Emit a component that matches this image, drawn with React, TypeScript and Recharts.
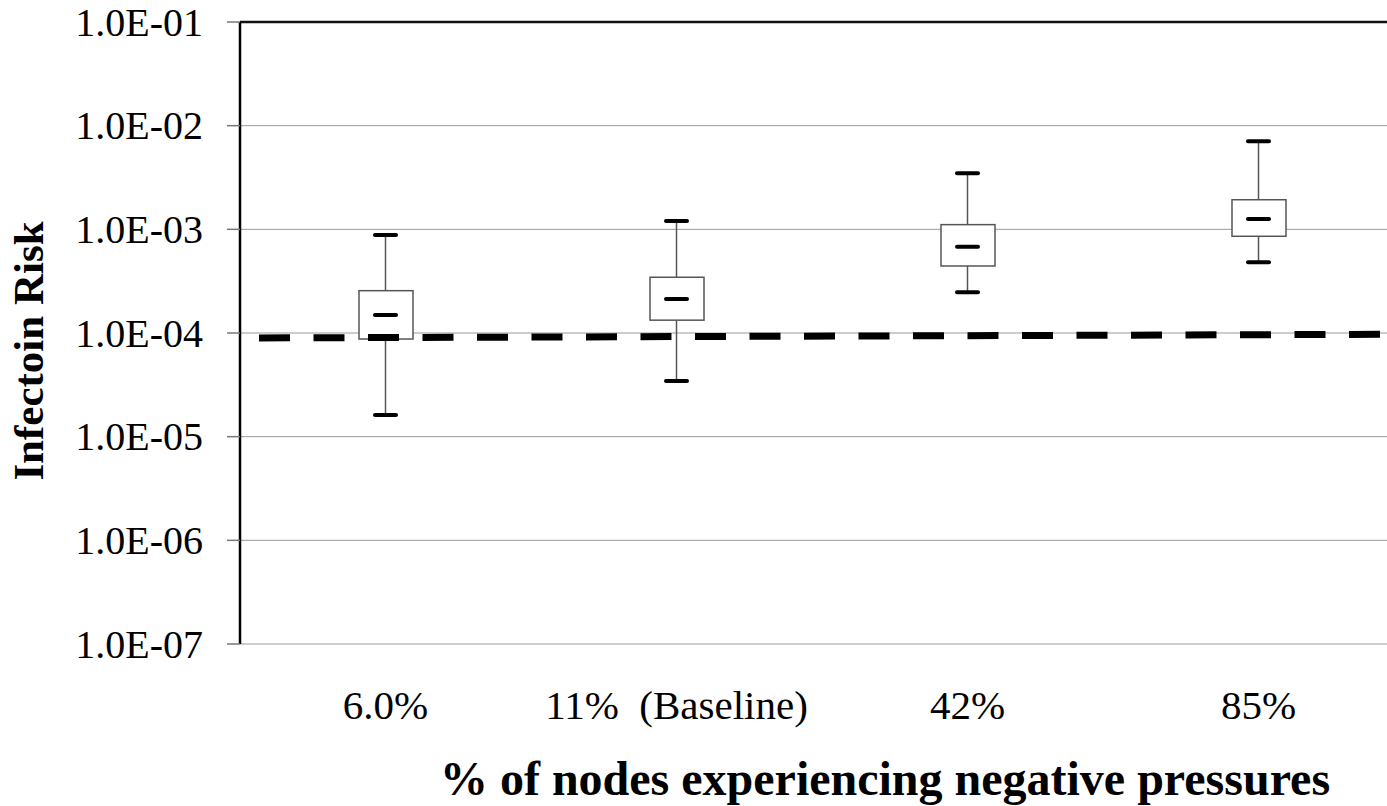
import React from "react";
import {
  Bar,
  CartesianGrid,
  ComposedChart,
  Label,
  ReferenceLine,
  Scatter,
  XAxis,
  YAxis,
} from "recharts";

const categories = ["6.0%", "11%  (Baseline)", "42%", "85%"];
const whiskerLow = [1.62e-5, 3.44e-5, 2.47e-4, 4.81e-4];
const boxLow = [8.75e-5, 1.33e-4, 4.43e-4, 8.57e-4];
const medians = [1.49e-4, 2.13e-4, 6.8e-4, 1.26e-3];
const boxHigh = [2.56e-4, 3.45e-4, 1.11e-3, 1.93e-3];
const whiskerHigh = [8.81e-4, 1.2e-3, 3.47e-3, 7.07e-3];

// dashed reference series, from left edge to right edge of the plot
const thresholdX = [0, 4];
const thresholdY = [8.95e-5, 1.0e-4];

const yTicks = [1e-7, 1e-6, 1e-5, 1e-4, 1e-3, 1e-2, 1e-1];
const bandEdges = [0, 1, 2, 3, 4];

const FONT = "Liberation Serif";

const fmtExp = (v: number) => {
  const e = Math.round(Math.log10(v));
  const sign = e < 0 ? "-" : "+";
  return `1.0E${sign}${String(Math.abs(e)).padStart(2, "0")}`;
};

const YTick = (props: any) => {
  const { x, y, payload } = props;
  return (
    <text x={x} y={y} dy="0.34em" textAnchor="end" fontFamily={FONT} fontSize={40} fill="#000">
      {fmtExp(payload.value)}
    </text>
  );
};

const XTick = (props: any) => {
  const { x, y, payload } = props;
  return (
    <text
      x={x}
      y={y + 75}
      textAnchor="middle"
      fontFamily={FONT}
      fontSize={41}
      fill="#000"
      style={{ whiteSpace: "pre" }}
    >
      {payload.value}
    </text>
  );
};

const WhiskerShape = (props: any) => {
  const { x, y, width, height } = props;
  const cx = x + width / 2;
  return (
    <g>
      <line x1={cx} x2={cx} y1={y} y2={y + height} stroke="#555" strokeWidth={1.5} />
      <rect x={x} y={y - 2} width={width} height={4} rx={2} fill="#000" />
      <rect x={x} y={y + height - 2} width={width} height={4} rx={2} fill="#000" />
    </g>
  );
};

const BoxShape = (props: any) => {
  const { x, y, width, height } = props;
  return <rect x={x} y={y} width={width} height={height} fill="#fff" stroke="#555" strokeWidth={1.5} />;
};

const MedianShape = (props: any) => {
  const { cx, cy } = props;
  return <rect x={cx - 12.5} y={cy - 2} width={25} height={4} rx={2} fill="#000" />;
};

export default function App() {
  const data = categories.map((name, i) => ({
    name,
    whisker: [whiskerLow[i], whiskerHigh[i]],
    box: [boxLow[i], boxHigh[i]],
    median: medians[i],
  }));

  return (
    <div
      style={{
        position: "absolute",
        left: 0,
        top: 0,
        width: 1387,
        height: 806,
        overflow: "hidden",
        background: "#fff",
        fontFamily: FONT,
      }}
    >
      <ComposedChart width={1404} height={806} data={data} margin={{ top: 22, right: 0, bottom: 0, left: 0 }}>
        <CartesianGrid xAxisId="num" vertical={false} stroke="#999" strokeWidth={1} />
        <XAxis
          xAxisId="num"
          type="number"
          domain={[0, 4]}
          ticks={bandEdges}
          interval={0}
          allowDataOverflow
          tickFormatter={() => ""}
          tickSize={14}
          height={14}
          axisLine={{ stroke: "#333", strokeWidth: 2.5 }}
          tickLine={{ stroke: "#666", strokeWidth: 1 }}
        />
        <XAxis
          xAxisId="cat"
          dataKey="name"
          type="category"
          height={148}
          axisLine={false}
          tickLine={false}
          tickSize={0}
          tickMargin={0}
          interval={0}
          tick={XTick}
        >
          <Label
            content={({ viewBox }: any) => (
              <text
                x={viewBox.x + viewBox.width / 2 + 63}
                y={795}
                textAnchor="middle"
                fontFamily={FONT}
                fontWeight="bold"
                fontSize={48}
                fill="#000"
              >
                % of nodes experiencing negative pressures
              </text>
            )}
          />
        </XAxis>
        <XAxis xAxisId="cat2" dataKey="name" type="category" hide />
        <YAxis
          type="number"
          scale="log"
          domain={[1e-7, 1e-1]}
          ticks={yTicks}
          interval={0}
          allowDataOverflow
          width={240}
          tickSize={13}
          tickMargin={24}
          tick={YTick}
          axisLine={{ stroke: "#000", strokeWidth: 2.5 }}
          tickLine={{ stroke: "#777", strokeWidth: 1.5 }}
        >
          <Label
            content={() => (
              <text
                x={43}
                y={351}
                transform="rotate(-90 43 351)"
                textAnchor="middle"
                fontFamily={FONT}
                fontWeight="bold"
                fontSize={43}
                fill="#000"
              >
                Infectoin Risk
              </text>
            )}
          />
        </YAxis>
        <ReferenceLine xAxisId="num" y={1e-1} stroke="#111" strokeWidth={2.5} />
        <Bar xAxisId="cat" dataKey="whisker" barSize={25} shape={WhiskerShape} isAnimationActive={false} />
        <Bar xAxisId="cat2" dataKey="box" barSize={54} shape={BoxShape} isAnimationActive={false} />
        <Scatter xAxisId="cat" dataKey="median" shape={MedianShape} isAnimationActive={false} />
        <ReferenceLine
          xAxisId="num"
          segment={[
            { x: thresholdX[0], y: thresholdY[0] },
            { x: thresholdX[1], y: thresholdY[1] },
          ]}
          stroke="#000"
          strokeWidth={7}
          strokeDasharray="31 23.5"
          strokeDashoffset={35.5}
          ifOverflow="visible"
        />
      </ComposedChart>
    </div>
  );
}
